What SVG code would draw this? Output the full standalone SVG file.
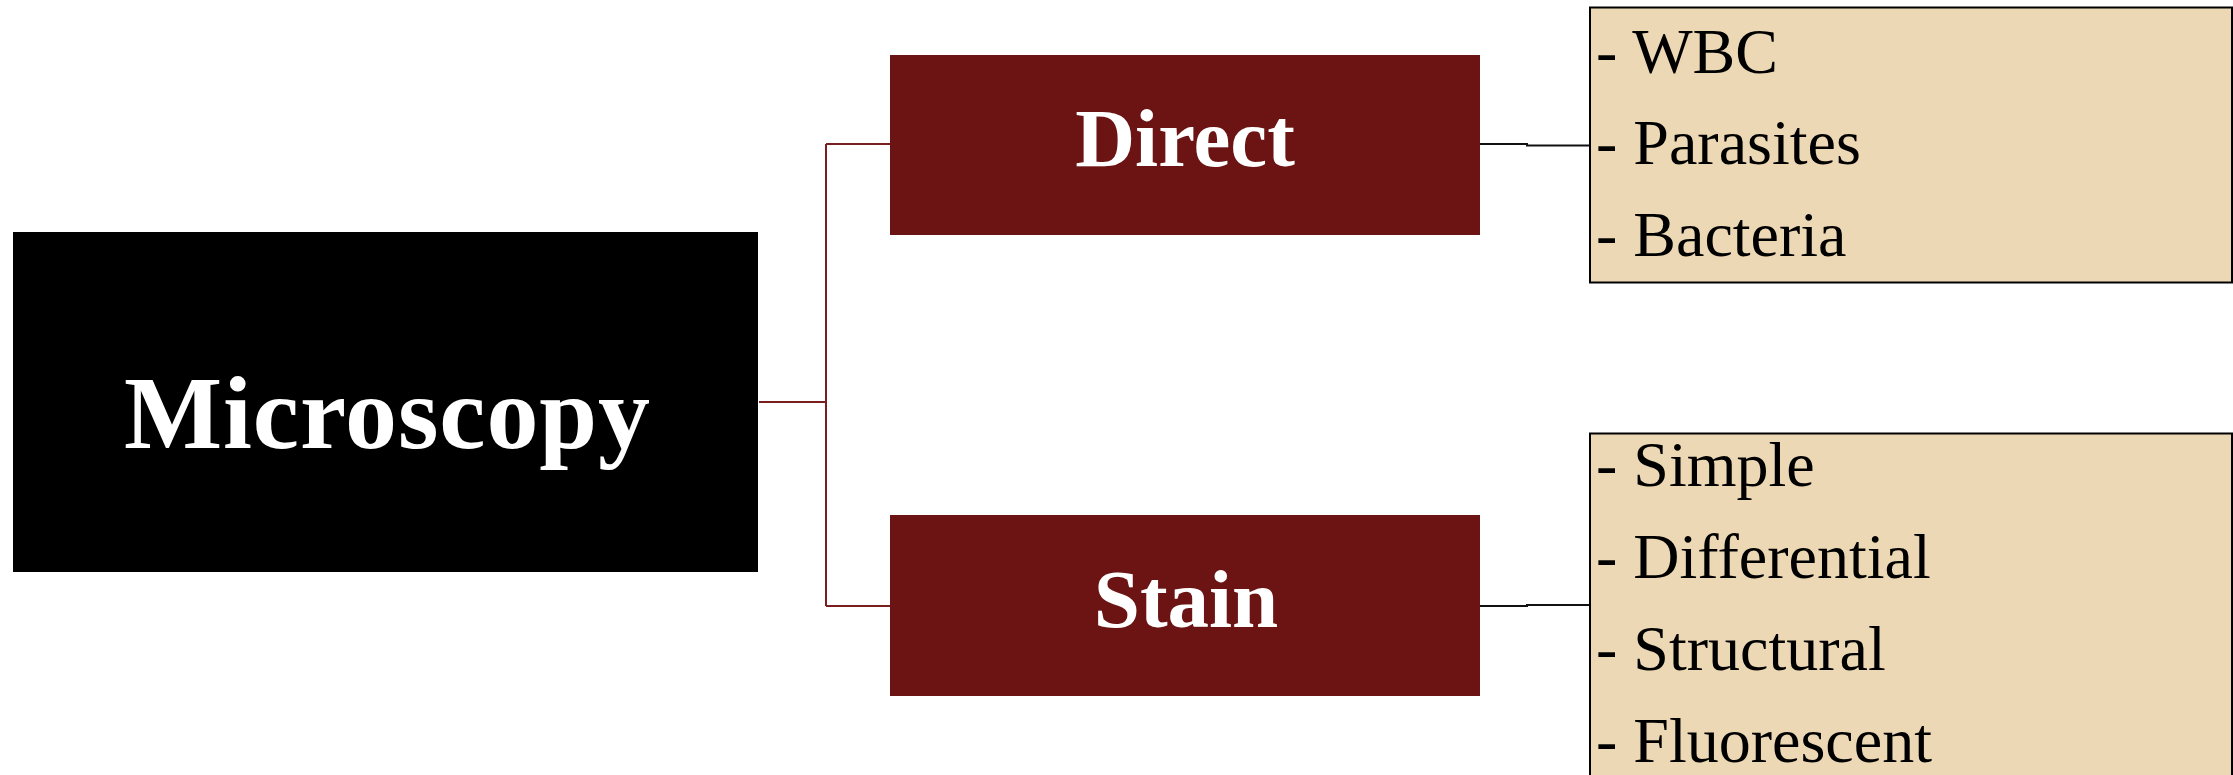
<svg xmlns="http://www.w3.org/2000/svg" width="2233" height="775" viewBox="0 0 2233 775">
<style>
.lbl{font-family:"Liberation Serif","Times New Roman",serif;font-weight:bold;fill:#ffffff;text-anchor:middle}
.item{font-family:"Liberation Serif","Times New Roman",serif;font-size:64px;fill:#000000}
.cat{fill:#6B1413}
.list{fill:#EDD8B5;stroke:#000000;stroke-width:2}
.cl{fill:none;stroke:#7A1F1F;stroke-width:2}
.cr{fill:none;stroke:#111111;stroke-width:2}
</style>
<rect width="2233" height="775" fill="#ffffff"/>
<g id="connectors">
<path class="cl" d="M759,402 H826 M826,144 V606 M826,144 H890 M826,606 H890"/>
<path class="cr" d="M1480,144 H1527 V145.5 H1590"/>
<path class="cr" d="M1480,606 H1527 V605 H1590"/>
</g>
<g id="microscopy">
<rect x="13" y="232" width="745" height="340" fill="#000000"/>
<text class="lbl" x="387" y="448" font-size="104" textLength="526" lengthAdjust="spacing">Microscopy</text>
</g>
<g id="direct">
<rect class="cat" x="890" y="55" width="590" height="180"/>
<text class="lbl" x="1185" y="166" font-size="83">Direct</text>
</g>
<g id="stain">
<rect class="cat" x="890" y="515" width="590" height="181"/>
<text class="lbl" x="1186" y="627" font-size="83">Stain</text>
</g>
<g id="direct-list">
<rect class="list" x="1590" y="7.5" width="642" height="275"/>
<text class="item" x="1596" y="73">- WBC</text>
<text class="item" x="1596" y="164">- Parasites</text>
<text class="item" x="1596" y="256">- Bacteria</text>
</g>
<g id="stain-list">
<rect class="list" x="1590" y="433.5" width="642" height="350"/>
<text class="item" x="1596" y="486">- Simple</text>
<text class="item" x="1596" y="578">- Differential</text>
<text class="item" x="1596" y="670">- Structural</text>
<text class="item" x="1596" y="762">- Fluorescent</text>
</g>
</svg>
